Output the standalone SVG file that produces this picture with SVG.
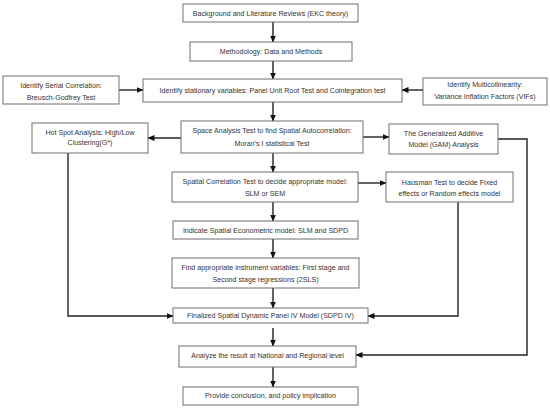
<svg xmlns="http://www.w3.org/2000/svg" width="550" height="409" viewBox="0 0 550 409">
<style>
.box{fill:#fff;stroke:#6e6e6e;stroke-width:1}
text{font-family:"Liberation Sans",Arial,sans-serif;font-size:7.1px;fill:#333;text-anchor:middle}
.c{fill:none;stroke:#222;stroke-width:1.4}
</style>
<defs>
<marker id="ah" markerUnits="userSpaceOnUse" markerWidth="7" markerHeight="6" refX="6.5" refY="3" orient="auto">
<path d="M0,0 L7,3 L0,6 Z" fill="#111"/>
</marker>
</defs>
<rect width="550" height="409" fill="#fff"/>
<g id="connectors">
<path class="c" d="M273,22 V42" marker-end="url(#ah)"/>
<path class="c" d="M273,61 V79" marker-end="url(#ah)"/>
<path class="c" d="M273,102 V121" marker-end="url(#ah)"/>
<path class="c" d="M273,153 V172" marker-end="url(#ah)"/>
<path class="c" d="M273,202 V221" marker-end="url(#ah)"/>
<path class="c" d="M273,239 V258" marker-end="url(#ah)"/>
<path class="c" d="M273,288 V308" marker-end="url(#ah)"/>
<path class="c" d="M273,328 V346" marker-end="url(#ah)"/>
<path class="c" d="M273,367 V387" marker-end="url(#ah)"/>
<path class="c" d="M119,90 H143" marker-end="url(#ah)"/>
<path class="c" d="M423,90 H402" marker-end="url(#ah)"/>
<path class="c" d="M181,138 H148" marker-end="url(#ah)"/>
<path class="c" d="M363,137 H389" marker-end="url(#ah)"/>
<path class="c" d="M498,139 H527 V355 H356" marker-end="url(#ah)"/>
<path class="c" d="M358,183 H386" marker-end="url(#ah)"/>
<path class="c" d="M458,202 V316 H368" marker-end="url(#ah)"/>
<path class="c" d="M68,153 V316 H173" marker-end="url(#ah)"/>
</g>
<g id="background"><rect class="box" x="183" y="4" width="175" height="18"/><text x="270.5" y="15.5">Background and Literature Reviews (EKC theory)</text></g>
<g id="methodology"><rect class="box" x="190" y="42" width="162" height="19"/><text x="271" y="54">Methodology: Data and Methods</text></g>
<g id="stationary"><rect class="box" x="143" y="79" width="259" height="23"/><text x="272.5" y="93">Identify stationary variables: Panel Unit Root Test and Cointegration test</text></g>
<g id="serial"><rect class="box" x="3" y="76" width="116" height="28"/><text x="61" y="88">Identify Serial Correlation:</text><text x="61" y="99.5">Breusch-Godfrey Test</text></g>
<g id="multicollinearity"><rect class="box" x="423" y="78" width="124" height="27"/><text x="485" y="86.5">Identify Multicollinearity:</text><text x="485" y="99">Variance Inflation Factors (VIFs)</text></g>
<g id="space"><rect class="box" x="181" y="121" width="182" height="32"/><text x="272" y="133">Space Analysis Test to find Spatial Autocorrelation:</text><text x="272" y="145.5">Moran’s I statistical Test</text></g>
<g id="hotspot"><rect class="box" x="32" y="123" width="116" height="30"/><text x="90" y="134.5">Hot Spot Analysis: High/Low</text><text x="90" y="145">Clustering(G*)</text></g>
<g id="gam"><rect class="box" x="389" y="124" width="109" height="30"/><text x="443.5" y="136">The Generalized Additive</text><text x="443.5" y="146.5">Model (GAM) Analysis</text></g>
<g id="spatialcorr"><rect class="box" x="172" y="172" width="186" height="30"/><text x="265" y="183.5">Spatial Correlation Test to decide appropriate model:</text><text x="265" y="195.5">SLM or SEM</text></g>
<g id="hausman"><rect class="box" x="386" y="172" width="127" height="30"/><text x="449.5" y="184.5">Hausman Test to decide Fixed</text><text x="449.5" y="195.5">effects or Random effects model</text></g>
<g id="indicate"><rect class="box" x="173" y="221" width="185" height="18"/><text x="265.5" y="233">Indicate Spatial Econometric model: SLM and SDPD</text></g>
<g id="instrument"><rect class="box" x="172" y="258" width="187" height="30"/><text x="265.5" y="269.5">Find appropriate instrument variables: First stage and</text><text x="265.5" y="281.5">Second stage regressions (2SLS)</text></g>
<g id="finalized"><rect class="box" x="173" y="308" width="195" height="15"/><text x="270.5" y="318.3">Finalized Spatial Dynamic Panel IV Model (SDPD IV)</text></g>
<g id="analyze"><rect class="box" x="179" y="346" width="177" height="21"/><text x="267.5" y="358.3">Analyze the result at National and Regional level</text></g>
<g id="provide"><rect class="box" x="183" y="387" width="175" height="18"/><text x="270.5" y="398.3">Provide conclusion, and policy implication</text></g>
</svg>
